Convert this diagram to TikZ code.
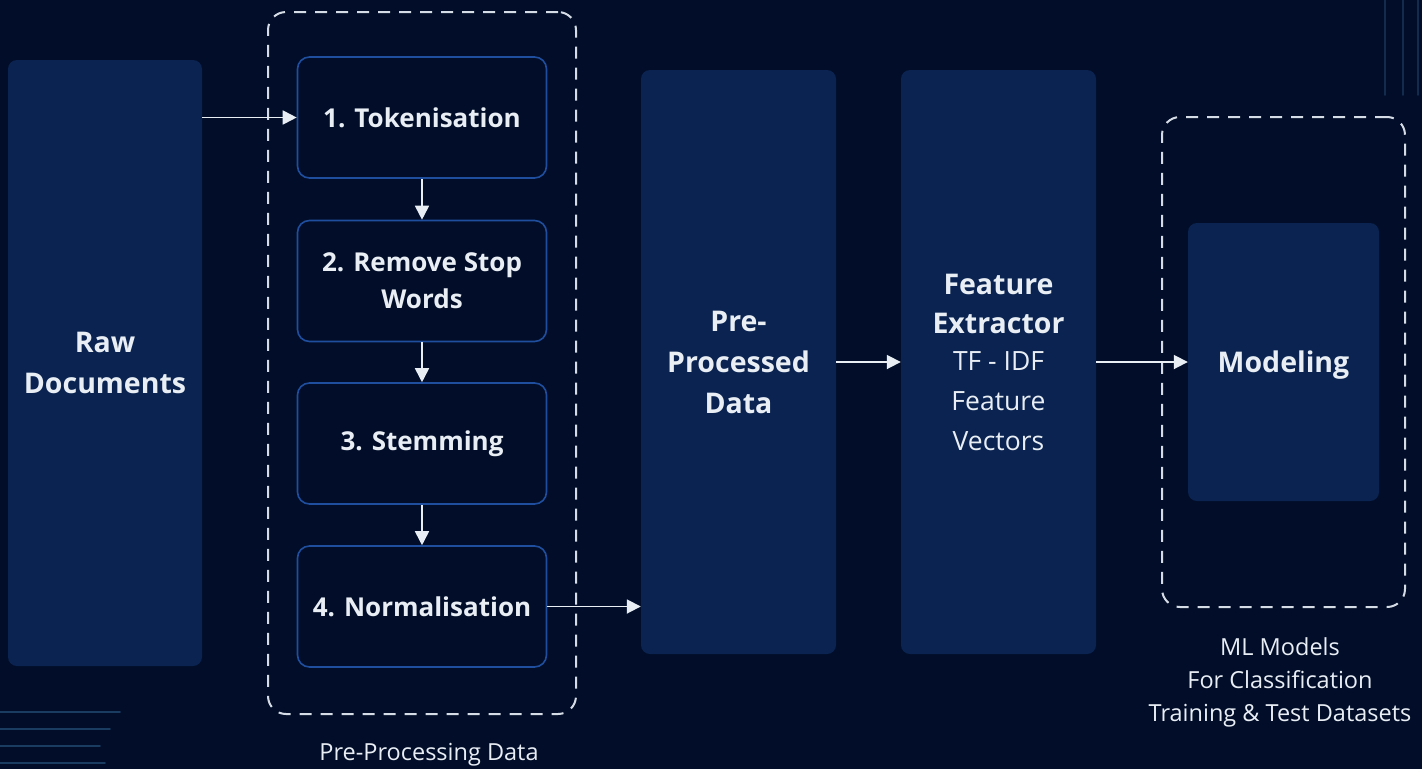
\documentclass[tikz,border=0pt]{standalone}
\usepackage{fontspec}
\setmainfont{Open Sans}
\usetikzlibrary{arrows.meta}
\definecolor{bg}{HTML}{020E29}
\definecolor{panel}{HTML}{0A2350}
\definecolor{stepedge}{HTML}{1F4E9E}
\definecolor{ink}{HTML}{E9EEF5}
\definecolor{dashink}{HTML}{D5DCE6}
\definecolor{glow}{HTML}{2C5A86}
\tikzset{
  panelbox/.style={fill=panel, rounded corners=9pt, inner sep=0pt, text=ink, align=center},
  stepbox/.style={fill=bg, draw=stepedge, line width=1.6pt, rounded corners=12pt,
    minimum width=249pt, minimum height=121pt, inner sep=0pt, text=ink,
    align=center, font=\fontsize{26}{37}\selectfont\bfseries},
  groupbox/.style={draw=dashink, line width=2pt, dash pattern=on 12pt off 9pt,
    rounded corners=18pt, inner sep=0pt},
  flow/.style={draw=ink, line width=1.8pt, -{Triangle[length=14pt,width=14pt]}},
  caption/.style={text=ink, align=center, font=\fontsize{23.5}{33}\selectfont},
  deco/.style={line width=1.6pt, line cap=round}
}
\begin{document}
\begin{tikzpicture}[x=1pt,y=-1pt]
  % canvas
  \path[fill=bg] (0,0) rectangle (1422,769);
  \useasboundingbox (0,0) rectangle (1422,769);

  % faint ornamental strokes
  \foreach \yy/\len in {712/120, 729/110, 746/100, 763/105}{
    \draw[deco, draw=glow!60!bg] (0,\yy) -- (\len,\yy);
  }
  \foreach \xx in {1385, 1403, 1418}{
    \draw[deco, draw=glow!40!bg] (\xx,0) -- (\xx,95);
  }

  % source documents
  \node[panelbox, minimum width=194pt, minimum height=606pt,
        font=\fontsize{28.5}{41}\selectfont\bfseries] (raw) at (105,363) {Raw\\Documents};

  % pre-processing group
  \node[groupbox, minimum width=308pt, minimum height=702pt] (prep) at (422,363) {};
  \node[stepbox] (tok)  at (422,117.5) {1. Tokenisation};
  \node[stepbox] (stop) at (422,281) {2. Remove Stop\\Words};
  \node[stepbox] (stem) at (422,443.5) {3. Stemming};
  \node[stepbox] (norm) at (422,606.5) {4. Normalisation};
  \node[caption] (prepcap) at (429,755) {Pre-Processing Data};

  % processed data and features
  \node[panelbox, minimum width=195pt, minimum height=584pt,
        font=\fontsize{28.5}{41}\selectfont\bfseries] (ppd) at (738.5,362) {Pre-\\Processed\\Data};
  \node[panelbox, minimum width=195pt, minimum height=584pt,
        font=\fontsize{28.5}{40}\selectfont] (feat) at (998.5,362)
        {{\bfseries Feature}\\[-1pt]{\bfseries Extractor}\\[-3pt]
         {\fontsize{26.5}{38}\selectfont TF - IDF}\\{\fontsize{26.5}{38}\selectfont Feature}\\{\fontsize{26.5}{38}\selectfont Vectors}};

  % modelling group
  \node[groupbox, minimum width=243pt, minimum height=490pt] (mlgrp) at (1283.5,362) {};
  \node[panelbox, minimum width=191pt, minimum height=278pt, text depth=0pt,
        font=\fontsize{28.5}{41}\selectfont\bfseries] (model) at (1283.5,362) {Modeling};
  \node[caption] (mlcap) at (1280,682) {ML Models\\For Classification\\Training \& Test Datasets};

  % connectors
  \draw[flow] (raw.east |- tok) -- (tok.west);
  \draw[flow] (tok.south) -- (stop.north);
  \draw[flow] (stop.south) -- (stem.north);
  \draw[flow] (stem.south) -- (norm.north);
  \draw[flow] (norm.east) -- (ppd.west |- norm);
  \draw[flow] (ppd.east) -- (feat.west);
  \draw[flow] (feat.east) -- (model.west);
\end{tikzpicture}
\end{document}
